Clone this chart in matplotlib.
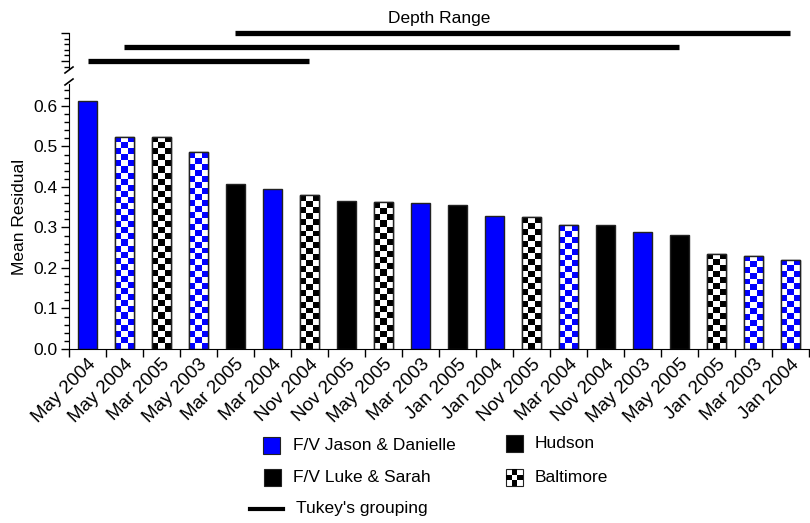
import numpy as np
import matplotlib
matplotlib.use("Agg")
import matplotlib.pyplot as plt
from matplotlib.patches import Rectangle
from matplotlib.lines import Line2D
from matplotlib.ticker import MultipleLocator, FixedLocator, NullFormatter

plt.rcParams['font.family'] = ['Liberation Sans', 'DejaVu Sans']
FS = 12.5

# ---- data ----
labels = ["May 2004", "May 2004", "Mar 2005", "May 2003", "Mar 2005", "Mar 2004",
          "Nov 2004", "Nov 2005", "May 2005", "Mar 2003", "Jan 2005", "Jan 2004",
          "Nov 2005", "Mar 2004", "Nov 2004", "May 2003", "May 2005", "Jan 2005",
          "Mar 2003", "Jan 2004"]
values = [0.612, 0.524, 0.524, 0.486, 0.408, 0.394, 0.379, 0.365, 0.362, 0.361,
          0.355, 0.328, 0.325, 0.306, 0.306, 0.288, 0.282, 0.235, 0.230, 0.220]
vessel = ["JD", "JD", "LS", "JD", "LS", "JD", "LS", "LS", "LS", "JD",
          "LS", "JD", "LS", "JD", "LS", "JD", "LS", "LS", "JD", "JD"]
port = ["H", "B", "B", "B", "H", "H", "B", "H", "B", "H",
        "H", "H", "B", "B", "H", "H", "H", "B", "B", "B"]
# Tukey groupings: (first bar index, last bar index)
tukey_groups = [(4, 19), (1, 16), (0, 6)]
tukey_levels = [5, 2.5, 0]

vessel_color = {"JD": "#0000ff", "LS": "#000000"}

W, H = 810, 523
fig = plt.figure(figsize=(W / 100, H / 100), dpi=100)

def fx(px):
    return px / W

def fy(py):
    return 1 - py / H

left, right = 69, 809
ax = fig.add_axes([fx(left), fy(349), fx(right - left), fy(84) - fy(349)])
axu = fig.add_axes([fx(left), fy(68), fx(right - left), fy(33) - fy(68)])

n = len(values)
centers = np.arange(n) + 0.5
bar_w = 0.5
cell_y = 0.0148

bars = ax.bar(centers, values, width=bar_w, color=[vessel_color[v] for v in vessel],
              edgecolor="#222222", linewidth=1.0, zorder=2)

for b, v, vs, p in zip(bars, values, vessel, port):
    if p == "B":
        b.set_facecolor("white")
        rows = max(1, int(round(v / cell_y)))
        grid = (np.indices((rows, 3)).sum(axis=0) % 2)[::-1]
        col = np.array(matplotlib.colors.to_rgb(vessel_color[vs]))
        img = np.ones((rows, 3, 3))
        img[grid == 0] = col
        x0 = b.get_x()
        im = ax.imshow(img, extent=(x0, x0 + bar_w, 0, v), origin="lower",
                       interpolation="nearest", aspect="auto", zorder=2.5)
        im.set_clip_path(b)
        outline = Rectangle((x0, 0), bar_w, v, fill=False, edgecolor="#222222",
                            linewidth=1.0, zorder=3)
        ax.add_patch(outline)

ax.set_xlim(0, n)
ax.set_ylim(0, 0.654)
ax.spines["top"].set_visible(False)
ax.spines["right"].set_visible(False)
ax.yaxis.set_major_locator(FixedLocator([0, 0.1, 0.2, 0.3, 0.4, 0.5, 0.6]))
ax.yaxis.set_minor_locator(MultipleLocator(0.02))
ax.set_yticklabels(["0.0", "0.1", "0.2", "0.3", "0.4", "0.5", "0.6"])
ax.tick_params(axis="y", which="major", length=6, width=1, labelsize=FS, pad=2)
ax.tick_params(axis="y", which="minor", length=3.5, width=1)
ax.set_xticks(np.arange(n + 1))
ax.xaxis.set_major_formatter(NullFormatter())
ax.set_xticks(centers, minor=True)
ax.set_xticklabels(labels, minor=True, rotation=45, ha="right", va="top",
                   rotation_mode="anchor", fontsize=13.5)
ax.tick_params(axis="x", which="major", length=6, width=1)
ax.tick_params(axis="x", which="minor", length=0, pad=5)
ax.set_ylabel("Mean Residual", fontsize=FS, labelpad=5)

# Upper panel with Tukey grouping lines
axu.set_xlim(0, n)
axu.set_ylim(-1.25, 5)
for sp in ["top", "right", "bottom"]:
    axu.spines[sp].set_visible(False)
axu.set_xticks([])
axu.yaxis.set_major_locator(FixedLocator([0, 5]))
axu.yaxis.set_minor_locator(FixedLocator([-1, 1, 2, 3, 4]))
axu.yaxis.set_major_formatter(NullFormatter())
axu.tick_params(axis="y", which="major", length=6, width=1)
axu.tick_params(axis="y", which="minor", length=3.5, width=1)
for (a, b), lvl in zip(tukey_groups, tukey_levels):
    axu.plot([centers[a], centers[b]], [lvl, lvl], color="black", lw=3.8,
             solid_capstyle="butt", clip_on=False)
axu.set_title("Depth Range", fontsize=FS, pad=7)

# Axis break marks on the left spine
d = 4
for yb in (70, 82):
    fig.add_artist(Line2D([fx(left - d), fx(left + d)], [fy(yb + 3), fy(yb - 3)],
                          color="black", lw=1.2))

# Legend
def square(px, py, face, checker=False):
    s = 17
    fig.add_artist(Rectangle((fx(px), fy(py + s)), fx(s), fy(0) - fy(s),
                             facecolor=face, edgecolor="#222222", lw=0.8,
                             transform=fig.transFigure))
    if checker:
        c = s / 3
        for i in range(3):
            for j in range(3):
                if (i + j) % 2 == 1:
                    fig.add_artist(Rectangle((fx(px + i * c), fy(py + (j + 1) * c)),
                                             fx(c), fy(0) - fy(c), facecolor="black",
                                             edgecolor="none",
                                             transform=fig.transFigure))

square(263, 437, vessel_color["JD"])
fig.text(fx(293), fy(445), "F/V Jason & Danielle", fontsize=FS, va="center")
square(264, 469, vessel_color["LS"])
fig.text(fx(293), fy(477), "F/V Luke & Sarah", fontsize=FS, va="center")
fig.add_artist(Line2D([fx(250), fx(283)], [fy(509), fy(509)], color="black", lw=3))
fig.text(fx(296), fy(509), "Tukey's grouping", fontsize=FS, va="center")
square(506, 435, "black")
fig.text(fx(535), fy(443), "Hudson", fontsize=FS, va="center")
square(506, 469, "white", checker=True)
fig.text(fx(535), fy(477), "Baltimore", fontsize=FS, va="center")

fig.savefig("out.png", dpi=100)
